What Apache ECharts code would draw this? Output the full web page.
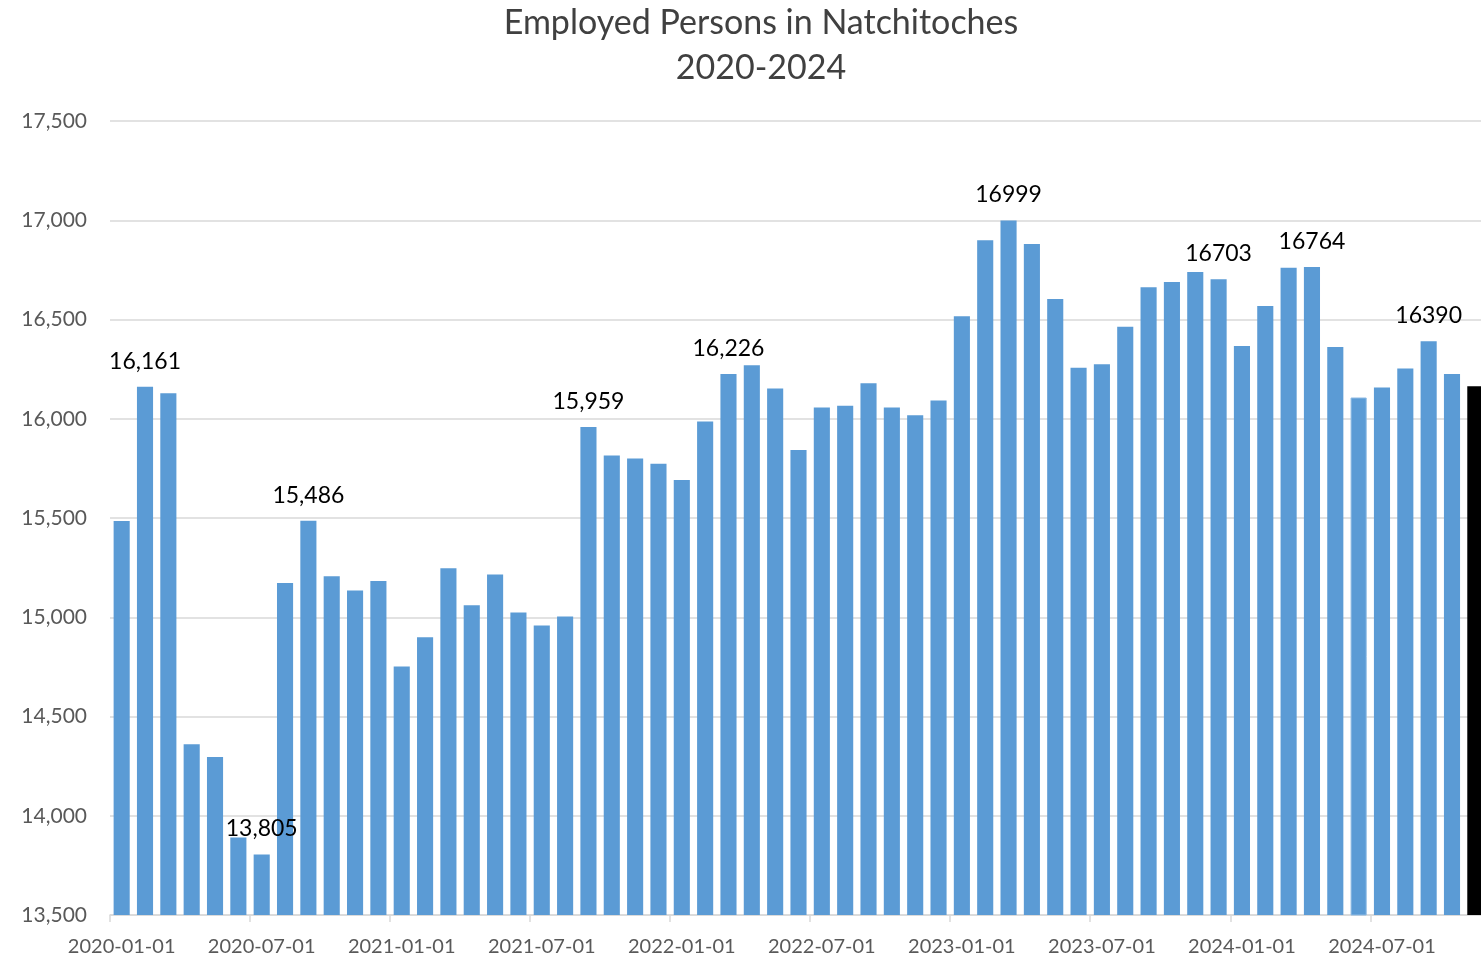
<!DOCTYPE html>
<html>
<head>
<meta charset="utf-8">
<script src="https://cdn.jsdelivr.net/npm/echarts@6/dist/echarts.min.js"></script>
<style>
html,body{margin:0;padding:0;background:#fff;}
#chart{width:1481px;height:956px;}
</style>
</head>
<body>
<div id="chart"></div>
<script>
const titleText = 'Employed Persons in Natchitoches\n2020-2024';
const categories = [
  '2020-01-01','2020-02-01','2020-03-01','2020-04-01','2020-05-01','2020-06-01',
  '2020-07-01','2020-08-01','2020-09-01','2020-10-01','2020-11-01','2020-12-01',
  '2021-01-01','2021-02-01','2021-03-01','2021-04-01','2021-05-01','2021-06-01',
  '2021-07-01','2021-08-01','2021-09-01','2021-10-01','2021-11-01','2021-12-01',
  '2022-01-01','2022-02-01','2022-03-01','2022-04-01','2022-05-01','2022-06-01',
  '2022-07-01','2022-08-01','2022-09-01','2022-10-01','2022-11-01','2022-12-01',
  '2023-01-01','2023-02-01','2023-03-01','2023-04-01','2023-05-01','2023-06-01',
  '2023-07-01','2023-08-01','2023-09-01','2023-10-01','2023-11-01','2023-12-01',
  '2024-01-01','2024-02-01','2024-03-01','2024-04-01','2024-05-01','2024-06-01',
  '2024-07-01','2024-08-01','2024-09-01','2024-10-01','2024-11-01'
];
const employed = [
  15485,16161,16128,14360,14296,13890,
  13805,15173,15486,15207,15135,15182,
  14752,14899,15247,15061,15215,15024,
  14958,15004,15959,15815,15800,15773,
  15692,15986,16226,16270,16153,15842,
  16057,16065,16179,16057,16018,16092,
  16517,16899,16999,16880,16603,16257,
  16274,16463,16663,16689,16739,16703,
  16366,16568,16761,16764,16361,16107,
  16158,16253,16390,16226,16164
];
const labeledIndex = [1, 6, 8, 20, 26, 38, 47, 51, 56];
const labeledText = ['16,161','13,805','15,486','15,959','16,226','16999','16703','16764','16390'];
const highlightIndex = [58];
const outlinedIndex = [53];
const yMin = 13500, yMax = 17500, yStep = 500;

const seriesData = employed.map(function (v, i) {
  const li = labeledIndex.indexOf(i);
  const item = { value: v };
  if (li >= 0) {
    item.label = { show: true, formatter: labeledText[li] };
  }
  if (highlightIndex.indexOf(i) >= 0) {
    item.itemStyle = { color: '#000000' };
  }
  if (outlinedIndex.indexOf(i) >= 0) {
    item.itemStyle = { color: '#5b9bd5', borderColor: '#8fbbe4', borderWidth: 1 };
  }
  return item;
});

const chart = echarts.init(document.getElementById('chart'));
chart.setOption({
  animation: false,
  backgroundColor: '#ffffff',
  title: {
    text: titleText,
    left: 756,
    textAlign: 'center',
    top: -4,
    textStyle: {
      fontFamily: 'Lato',
      fontSize: 34,
      fontWeight: 'normal',
      color: '#404040',
      lineHeight: 45
    }
  },
  grid: { left: 110, width: 1377, top: 121, bottom: 41, outerBoundsMode: 'none', containLabel: false },
  xAxis: {
    type: 'category',
    data: categories,
    boundaryGap: true,
    axisLine: { show: true, lineStyle: { color: '#d9d9d9', width: 1.5 } },
    axisTick: { show: true, interval: 5, length: 7, lineStyle: { color: '#d9d9d9', width: 1.5 } },
    axisLabel: {
      interval: 5,
      margin: 22,
      fontFamily: 'Lato',
      fontSize: 20,
      color: '#595959'
    },
    splitLine: { show: false }
  },
  yAxis: {
    type: 'value',
    min: yMin,
    max: yMax,
    interval: yStep,
    axisLine: { show: false },
    axisTick: { show: false },
    axisLabel: {
      margin: 23,
      fontFamily: 'Lato',
      fontSize: 21,
      color: '#595959',
      formatter: function (v) { return v.toLocaleString('en-US'); }
    },
    splitLine: { lineStyle: { color: '#d9d9d9', width: 1.5 } }
  },
  series: [{
    type: 'bar',
    data: seriesData,
    barCategoryGap: '31%',
    itemStyle: { color: '#5b9bd5' },
    label: {
      show: false,
      position: 'top',
      distance: 14,
      fontFamily: 'Lato',
      fontSize: 23,
      color: '#000000'
    }
  }]
});
</script>
</body>
</html>
